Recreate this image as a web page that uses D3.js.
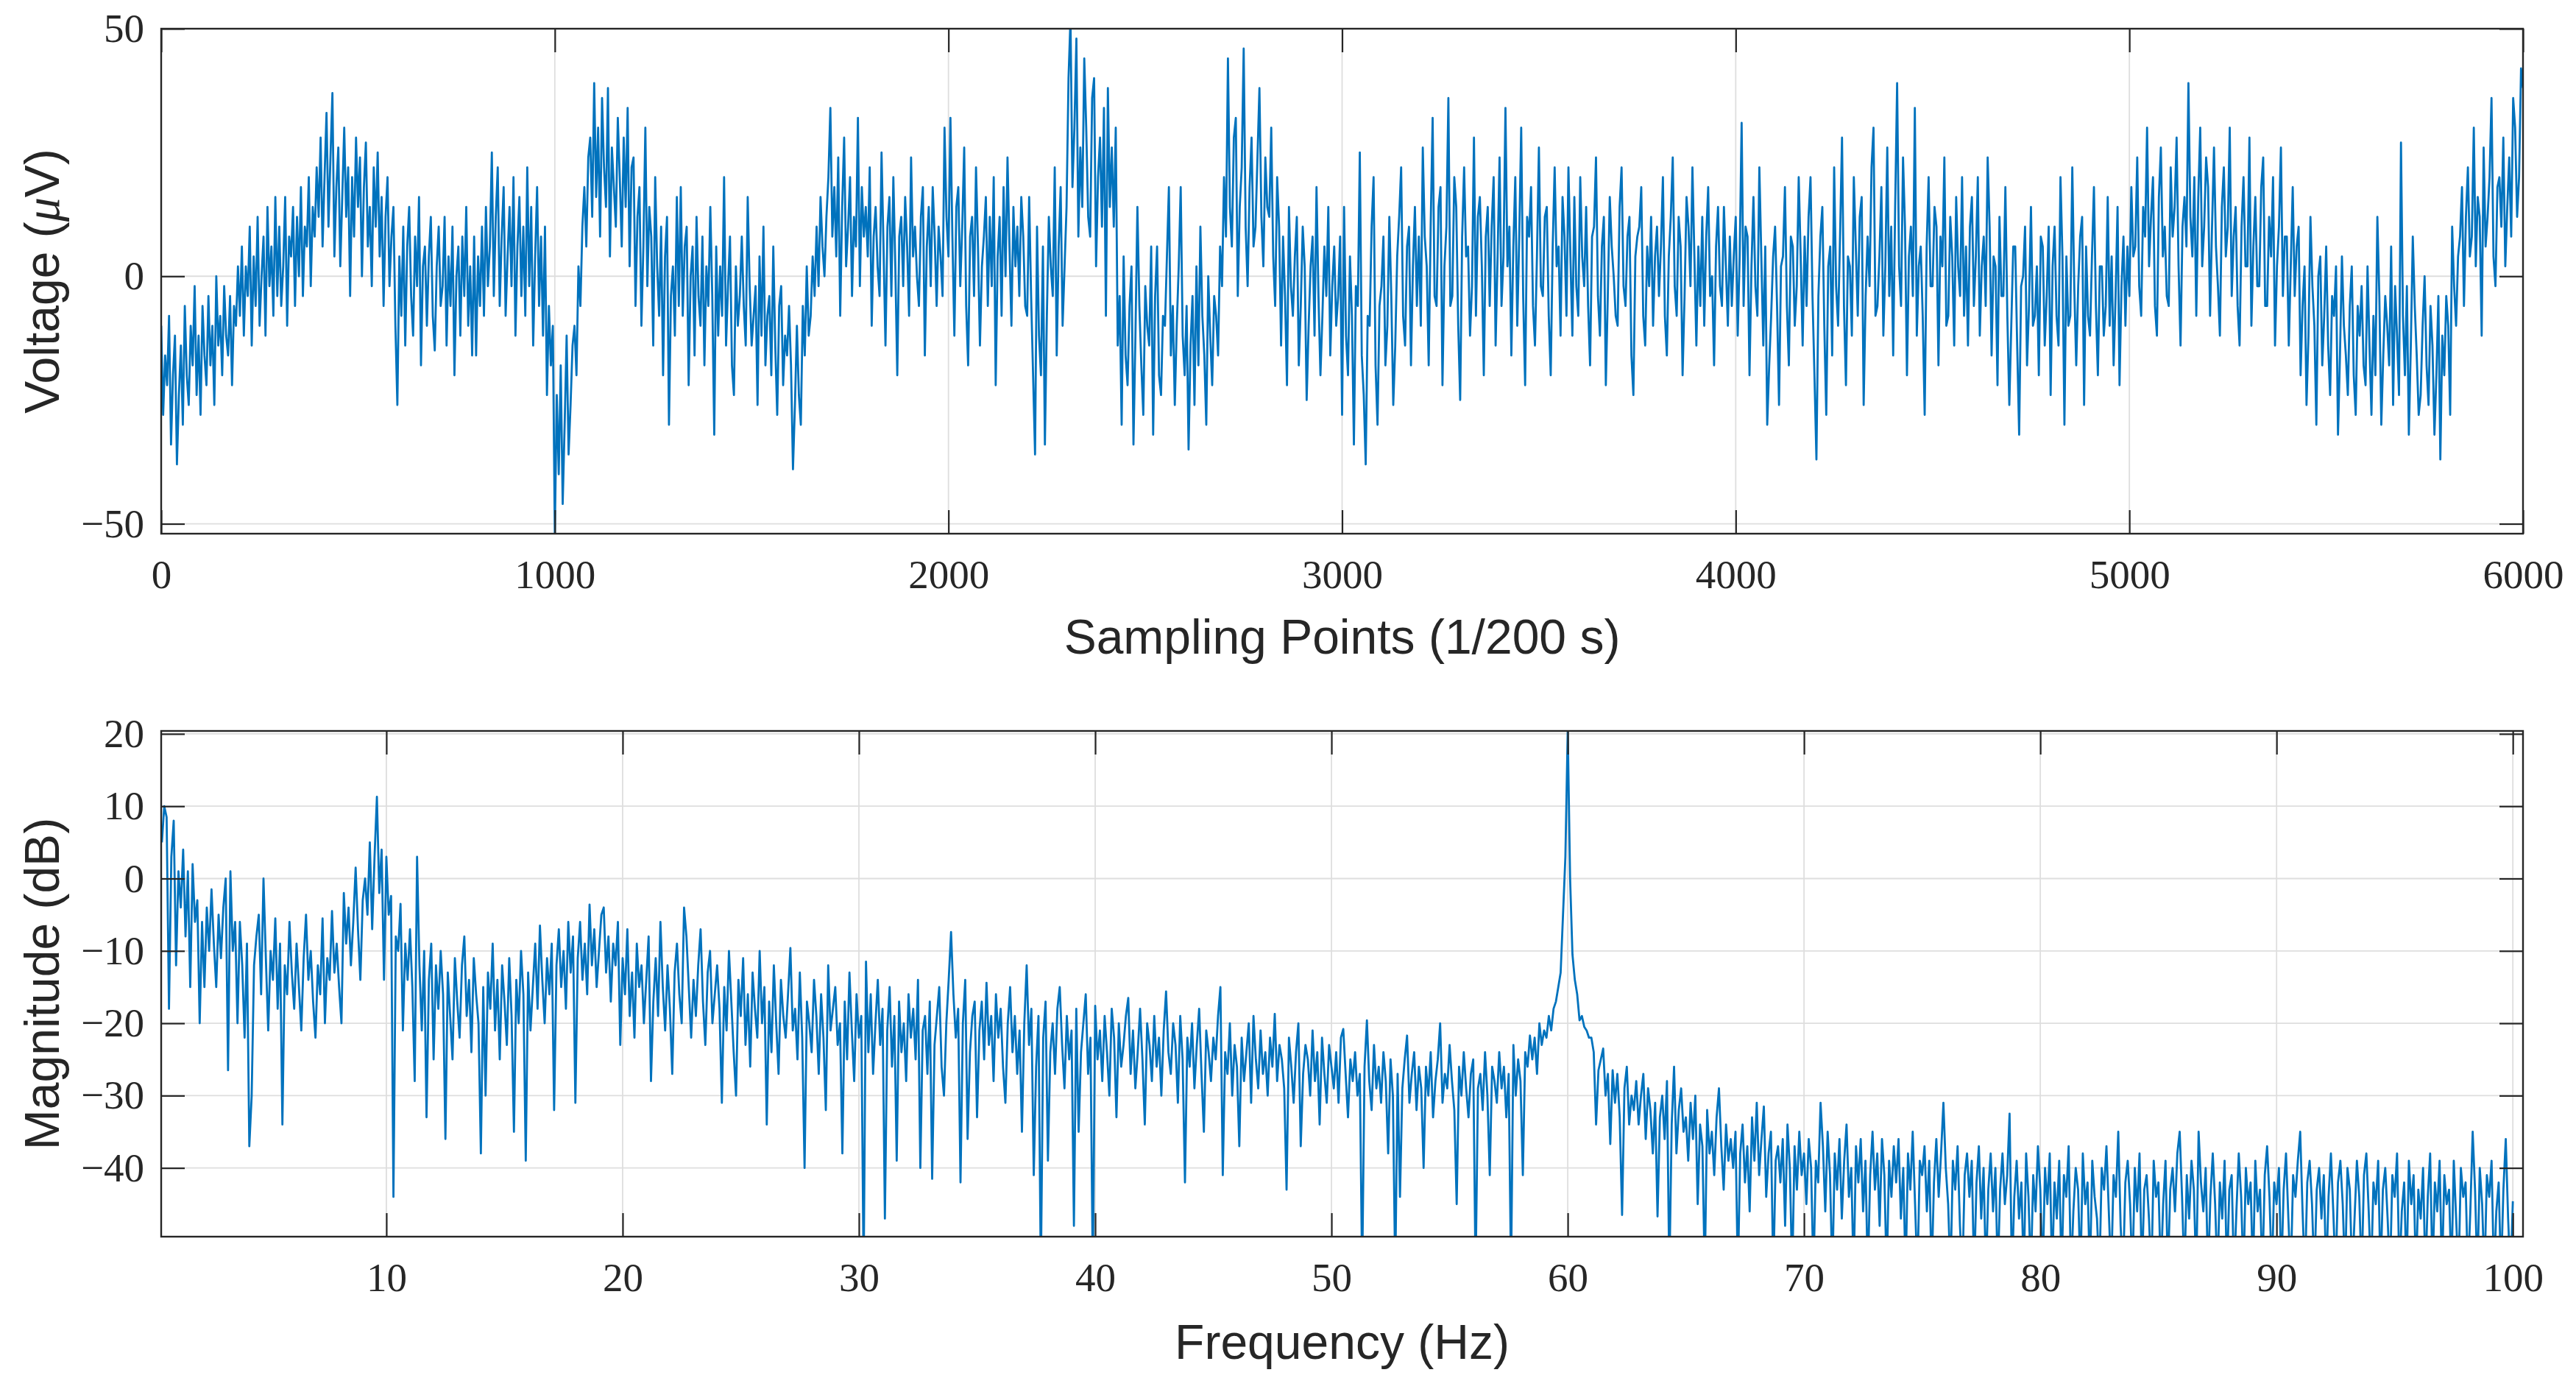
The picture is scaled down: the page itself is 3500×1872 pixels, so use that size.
<!DOCTYPE html>
<html>
<head>
<meta charset="utf-8">
<script src="https://cdn.jsdelivr.net/npm/d3@7"></script>
<style>
  body { margin: 0; background: #fff; }
  svg { display: block; }
  .tick-label { font-family: "Liberation Serif", "DejaVu Serif", serif; fill: #262626; }
  .axis-title { font-family: "Liberation Sans", Arial, sans-serif; fill: #262626; }
</style>
</head>
<body>
<svg id="chart" width="3500" height="1872"></svg>
<script>
// EEG trace, read every 5th sampling point off the top panel (one row = 100 points)
const voltage = [
  -10,-28,-16,-22,-8,-34,-20,-12,-38,-24,-14,-30,-6,-20,-26,-10,-18,-2,-24,-12,
  -28,-6,-16,-22,-4,-18,-10,-26,0,-14,-8,-20,-2,-12,-16,-4,-22,-6,-10,2,
  -8,6,-12,2,-4,10,-14,4,-6,12,-10,0,8,-12,14,-2,6,-8,16,-4,
  10,-6,2,16,-10,8,4,14,-6,12,0,18,-4,10,6,20,-2,14,8,22,
  12,28,6,20,33,10,24,37,4,18,26,2,16,30,12,22,-4,20,8,28,
  14,24,0,18,27,6,14,-2,22,10,25,4,16,-6,12,20,-2,8,14,-10,
  -26,4,-8,10,-14,6,14,-4,-12,8,-2,16,-18,2,6,-10,4,12,-8,-15,
  2,10,-6,-2,12,-14,4,-6,10,-20,0,6,-12,8,-4,14,-10,2,-16,8,
  -16,4,-6,10,-8,14,-2,6,25,-4,12,22,-6,8,18,-8,4,14,-2,20,
  -12,6,16,-4,10,-8,22,-2,14,-14,4,18,-6,8,-12,10,-24,-6,-18,-10,
  -52,-24,-40,-18,-46,-30,-12,-36,-26,-14,-10,-20,2,-6,10,18,6,24,28,12,
  39,16,30,8,36,22,14,38,4,26,18,10,32,20,6,28,14,34,2,22,
  24,-6,12,18,-10,6,30,-2,14,8,-14,20,2,-8,10,-20,4,12,-30,-4,
  2,-12,16,-6,18,-8,6,10,-22,0,6,-16,12,-4,-10,8,-18,2,-6,14,
  -4,-32,6,-12,2,-8,20,-14,-2,8,-18,-24,2,-10,-4,8,-6,-14,16,-2,
  -14,-8,-2,-26,4,-12,10,-18,-8,-4,-20,6,-14,-28,-6,-2,-22,-12,-16,-6,
  -18,-39,-26,-10,-24,-30,-6,-16,2,-12,-8,4,-4,10,-2,16,6,0,12,20,
  34,8,18,4,24,-8,14,28,2,10,20,-4,12,6,32,-2,18,8,14,4,
  22,-10,8,14,2,-4,25,6,-14,10,16,-4,20,2,-20,8,12,-2,16,6,
  -8,24,4,10,0,-6,12,18,-16,6,14,-2,18,8,-6,10,4,-4,30,12,
  4,32,8,-12,14,18,-2,10,26,-6,-18,8,12,-4,22,6,-14,2,8,16,
  -6,12,-2,20,-22,4,12,-8,18,0,24,6,-10,14,2,10,-4,16,8,-6,
  -8,16,-4,-20,-36,10,-12,-20,6,-34,-8,12,2,-4,22,-16,6,18,-10,2,
  14,40,52,18,30,48,8,26,14,44,30,12,8,36,40,2,20,28,10,34,
  -8,38,14,26,10,30,-14,-4,-30,4,-16,-22,-6,2,-34,-12,14,-6,-18,-28,
  -2,-10,-14,6,-32,-4,6,-20,-24,-8,-10,4,18,-16,-6,-26,-10,2,18,-12,
  -20,-6,-35,-14,-4,-26,2,-18,10,-8,-16,-30,0,-12,-22,-4,-8,-16,6,-2,
  20,8,44,14,6,28,32,-4,14,22,46,10,-2,18,28,6,10,24,38,12,
  2,24,14,12,30,4,-6,20,10,-14,8,-4,-22,14,-2,-8,4,12,-18,-6,
  10,2,-25,-10,2,8,-12,18,-4,-20,-8,6,-4,14,-16,-2,6,-10,-4,8,
  -28,14,-12,-20,4,-8,-34,-2,-6,25,-16,-24,-38,-8,-10,10,20,-18,-30,-6,
  -2,8,-18,-10,12,-4,-26,-14,4,12,22,-8,-14,6,10,-18,2,14,-6,8,
  -10,26,8,2,-18,10,32,-4,-6,14,18,-22,2,10,36,-6,-4,20,14,-10,
  -25,8,22,4,6,-12,-2,28,-8,12,16,2,-20,8,14,-6,10,20,-14,4,
  24,-6,4,34,2,10,-16,6,20,-10,8,30,-4,-22,12,8,18,-6,-14,4,
  26,-2,-4,12,14,-8,-20,6,22,2,6,-12,16,8,-8,22,4,-12,16,-2,
  -8,20,4,-2,14,-6,-18,8,10,24,-4,-12,6,12,-22,-4,16,6,0,-8,
  -10,14,22,-2,-6,8,12,-16,-24,4,8,10,18,-8,-14,6,-2,12,-10,4,
  10,-4,6,20,-8,-16,4,12,24,-2,-8,12,6,-20,-4,16,10,-2,22,4,
  -14,6,-6,12,-10,8,18,-4,0,-18,6,14,-2,-6,14,2,-10,8,-6,4,
  12,-12,4,31,-6,10,8,-20,2,16,-2,-8,22,4,-14,6,-30,-18,-8,4,
  10,-6,-26,2,4,18,-6,-18,8,6,-10,-2,20,4,-14,8,-6,12,20,-4,
  -20,-37,-4,8,14,-10,-28,2,6,-16,22,-2,-10,8,28,-6,-22,4,2,-12,
  20,6,-8,12,16,-26,-4,8,-2,22,30,-8,-6,4,18,-12,2,26,-4,10,
  -16,14,39,2,-6,24,10,-20,4,10,-4,34,-12,2,6,-8,-28,6,20,-2,
  -2,14,10,-18,8,2,24,-10,-8,12,4,-14,16,2,-4,20,-8,6,-14,10,
  16,-6,4,20,-12,2,8,-6,24,10,-16,4,2,-22,12,-4,-4,18,-8,-26,
  -10,6,6,-14,-32,-2,0,10,-18,-6,14,-10,-8,2,-20,8,6,-14,-4,10,
  -24,2,10,-8,-14,20,4,-30,4,-10,-8,22,-2,-18,-2,8,12,-26,6,-8,
  -12,4,18,-6,-20,2,2,-12,-6,16,-10,4,-18,-4,14,-22,-2,8,-10,6,
  -4,18,4,6,24,-2,-8,14,8,30,2,12,20,-6,-12,16,26,4,10,-4,
  -6,22,8,14,28,2,-14,10,16,6,39,12,4,20,-8,16,30,2,10,24,
  18,-8,10,26,6,-2,-12,14,22,4,10,30,-4,8,14,-6,-14,10,20,2,
  2,28,-10,6,16,-2,-2,18,24,-6,-6,12,4,20,-14,2,10,26,-4,8,
  8,-14,2,18,-4,6,10,-20,-6,2,-26,-12,12,-2,-10,-30,0,4,-18,-8,
  6,-14,-24,-4,-8,2,-32,-16,4,-10,-16,-24,-6,2,-20,-28,-6,-12,-2,-18,
  -22,2,-14,-28,-8,-20,12,-4,-30,-16,-4,-10,-18,6,-26,-2,-12,-24,27,-8,
  -20,-2,-32,-14,8,-6,-16,-28,-24,-10,0,-18,-26,-6,-14,-32,-20,-4,-37,-12,
  -20,-4,-10,-28,10,-2,-10,4,8,18,-6,12,22,4,8,30,2,16,12,-12,
  26,6,12,20,36,4,-2,18,20,10,28,2,14,24,8,36,30,12,20,42,
  38
];
const sampleCount = 6000;

// magnitude spectrum, one value every 0.1 Hz from 0.5 Hz (one row = one Hz)
const freqStart = 0.5;
const freqStep = 0.1;
const magnitude = [
  5,10,8.5,-18,3,
  8,-12,1,-4,4,-8,1,-15,2,-6,
  -3,-20,-6,-15,-4,-10,-1.5,-9,-15,-5,
  -11,-4,0,-26.5,1,-10,-6,-20,-6,-12,
  -22,-9,-37,-30,-12,-8,-5,-16,0,-11,
  -21,-10,-14,-5.5,-18,-9,-34,-12,-16,-6,
  -13,-18,-9,-15,-21,-11,-5,-14,-10,-17,
  -22,-12,-16,-5.5,-20,-11,-14,-4.5,-13,-9,
  -15,-20,-2,-9,-4,-12,-6,1.5,-7,-14,
  -3,0,-5,5,-7,3,11.3,-2,4,-14,
  3,-5,-2.4,-44,-8,-10,-3.5,-21,-9,-14,
  -7,-15,-28,3,-12,-21,-10,-33,-14,-9,
  -25,-12,-18,-10,-16,-36,-13,-19,-25,-11,
  -17,-22,-12,-8,-19,-14,-24,-11,-16,-20,
  -38,-15,-30,-13,-18,-9,-21,-14,-25,-12,
  -17,-23,-11,-19,-35,-14,-20,-10,-16,-39,
  -13,-21,-15,-9,-18,-6.5,-14,-20,-11,-16,
  -9,-32,-12,-7,-15,-10,-18,-6,-13,-8,
  -31,-11,-6,-14,-9,-16,-3.6,-12,-7,-15,
  -10,-5,-4,-13,-8,-17,-9,-12,-6,-23,
  -11,-16,-7,-19,-13,-22,-9,-15,-12,-20,
  -14,-8,-28,-17,-11,-19,-6,-15,-21,-12,
  -18,-27,-13,-9,-16,-20,-4,-8,-15,-22,
  -14,-19,-12,-7,-17,-23,-13,-10,-20,-16,
  -12,-18,-31,-15,-21,-10,-17,-24,-30,-14,
  -19,-11,-23,-16,-26,-13,-18,-22,-10,-20,
  -15,-34,-17,-24,-12,-20,-27,-14,-19,-22,
  -16,-9.6,-21,-18,-25,-13,-22,-40,-17,-20,
  -24,-14,-19,-27,-16,-22,-32,-12,-21,-18,
  -15,-23,-20,-38,-17,-25,-13,-21,-28,-16,
  -22,-19,-55,-11.5,-24,-16,-27,-20,-14,-23,
  -18,-47,-21,-15,-26,-19,-39,-17,-24,-20,
  -28,-16,-22,-18,-25,-14,-40,-21,-19,-27,
  -17,-41.5,-23,-19,-15,-26,-30,-20,-14,-7.4,
  -16,-22,-18,-42,-20,-14,-36,-24,-19,-17,
  -33,-21,-17,-25,-14.4,-23,-19,-28,-16,-22,
  -18,-26,-31,-20,-15,-24,-19,-27,-21,-35,
  -20,-12,-23,-18,-41,-26,-19,-55,-22,-17,
  -39,-24,-20,-27,-18,-15,-23,-29,-19,-25,
  -21,-48,-18,-35,-24,-20,-16,-27,-22,-55,
  -17.6,-25,-21,-28,-19,-24,-30,-18,-22,-33,
  -20,-26,-23,-19,-16.5,-27,-21,-29,-24,-18,
  -25,-34,-20,-23,-28,-19,-26,-22,-30,-21,
  -15.6,-24,-27,-20,-23,-31,-19,-25,-42,-22,
  -26,-20,-29,-23,-18,-27,-35,-21,-24,-28,
  -22,-25,-19,-15,-41,-24,-27,-20,-30,-23,
  -26,-37,-22,-28,-24,-20,-31,-19,-25,-29,
  -21,-27,-24,-30,-22,-26,-18.7,-28,-23,-25,
  -29,-43,-22,-26,-31,-24,-20,-37,-27,-23,
  -25,-30,-21,-28,-24,-34,-22,-27,-31,-23,
  -26,-29,-24,-31,-22,-20.8,-27,-33,-25,-28,
  -24,-30,-27,-55,-26,-19.6,-28,-32,-23,-29,
  -26,-31,-24,-28,-38,-25,-30,-55,-27,-44,
  -29,-25,-21.7,-31,-27,-24,-32,-26,-29,-40,
  -26,-30,-24,-33,-28,-25,-20,-31,-27,-29,
  -23,-28,-32,-45,-26,-30,-24,-29,-33,-27,
  -25,-55,-29,-27,-32,-24,-30,-41,-26,-28,
  -31,-24,-29,-26,-33,-27,-55,-23,-30,-25,
  -28,-41,-24,-26,-21.7,-25,-22,-27,-20,-23,
  -21,-22,-19,-21,-18,-17,-15,-13,-5,3,
  20.5,0,-10.5,-14,-16,-19.6,-19,-20.5,-21,-22,
  -22,-24,-34,-26.5,-25,-23.5,-30,-27,-36.7,-26.5,
  -31,-27,-33,-46.5,-29,-26,-34,-30,-32,-28,
  -34,-30,-27,-36,-29,-32,-38,-31,-46.7,-33,
  -30,-36,-28,-55,-34,-26,-38,-32,-29,-35,
  -33,-39,-31,-36,-30,-45,-34,-37,-55,-32,
  -38,-35,-41,-33,-29,-37,-43,-34,-39,-36,
  -40,-35,-55,-38,-34,-42,-37,-46,-33,-39,
  -31,-41,-36,-31.5,-44,-38,-35,-55,-39,-37,
  -42,-36,-48,-34,-40,-55,-37,-43,-35,-41,
  -38,-45,-36,-40,-55,-39,-42,-31,-37,-46,
  -35,-41,-55,-38,-43,-36,-47,-39,-34,-44,
  -40,-55,-37,-42,-36,-46,-39,-55,-41,-35,
  -43,-38,-48,-36,-41,-55,-39,-44,-37,-42,
  -36,-47,-40,-55,-38,-43,-35,-45,-55,-39,
  -41,-37,-46,-39,-55,-42,-36,-44,-38,-31,
  -40,-45,-55,-39,-43,-37,-48,-55,-41,-38,
  -44,-39,-55,-42,-37,-47,-40,-55,-43,-38,
  -46,-40,-55,-43,-38,-45,-41,-32.5,-55,-44,
  -39,-47,-42,-55,-38,-44,-55,-41,-46,-37,
  -43,-55,-40,-45,-38,-55,-42,-47,-39,-55,
  -41,-44,-37,-55,-46,-40,-43,-55,-38,-45,
  -42,-55,-39,-44,-47,-55,-40,-43,-37,-46,
  -55,-41,-44,-35,-48,-55,-42,-39,-45,-55,
  -40,-46,-38,-55,-43,-41,-47,-55,-39,-44,
  -42,-55,-45,-39,-55,-43,-40,-46,-38,-35,
  -44,-55,-41,-47,-39,-43,-55,-35,-42,-46,
  -40,-55,-44,-38,-45,-55,-42,-47,-39,-55,
  -43,-41,-55,-46,-38,-44,-55,-40,-45,-42,
  -55,-39,-46,-43,-55,-41,-37,-44,-55,-42,
  -45,-40,-55,-43,-38,-47,-55,-41,-44,-39,
  -35,-46,-55,-42,-39,-45,-55,-43,-40,-47,
  -41,-55,-44,-38,-46,-55,-42,-39,-45,-55,
  -40,-43,-55,-47,-39,-44,-55,-41,-38,-46,
  -55,-42,-45,-39,-55,-43,-40,-47,-55,-41,
  -44,-38,-55,-46,-42,-55,-39,-45,-41,-55,
  -43,-47,-40,-55,-44,-38,-55,-42,-46,-39,
  -55,-41,-45,-43,-55,-39,-47,-55,-40,-44,
  -42,-55,-46,-35,-43,-55,-40,-45,-55,-41,
  -44,-39,-55,-46,-42,-55,-43,-36,-47,-55,
  -44.6
];

const timeTicks = [0, 1000, 2000, 3000, 4000, 5000, 6000];
const voltTicks = [-50, 0, 50];
const freqTicks = [10, 20, 30, 40, 50, 60, 70, 80, 90, 100];
const dbTicks = [-40, -30, -20, -10, 0, 10, 20];

const svg = d3.select("#chart");
const lineColor = "#0072bd";
const axisColor = "#262626";
const tickLen = 32;

function fmt(v) {
  return v < 0 ? "\u2212" + Math.abs(v) : String(v);
}

function drawPanel(cfg) {
  const { left, right, top, bottom } = cfg.box;
  const w = right - left;
  const h = bottom - top;

  const scX = d3.scaleLinear().domain(cfg.xDomain).range([0, w]);
  const scY = d3.scaleLinear().domain(cfg.yDomain).range([h, 0]);

  const g = svg.append("g").attr("transform", `translate(${left}, ${top})`);

  // grid
  g.append("g")
    .selectAll("line")
    .data(cfg.xTicks)
    .enter()
    .append("line")
    .attr("x1", (d) => scX(d))
    .attr("x2", (d) => scX(d))
    .attr("y1", 0)
    .attr("y2", h)
    .style("stroke", "#dedede")
    .style("stroke-width", 1.8);
  g.append("g")
    .selectAll("line")
    .data(cfg.yTicks)
    .enter()
    .append("line")
    .attr("x1", 0)
    .attr("x2", w)
    .attr("y1", (d) => scY(d))
    .attr("y2", (d) => scY(d))
    .style("stroke", "#dedede")
    .style("stroke-width", 1.8);

  // signal
  const clipId = cfg.id + "-clip";
  g.append("clipPath")
    .attr("id", clipId)
    .append("rect")
    .attr("width", w)
    .attr("height", h);

  const line = d3
    .line()
    .x((d, i) => scX(cfg.xOf(i)))
    .y((d) => scY(d));

  g.append("path")
    .datum(cfg.values)
    .attr("clip-path", `url(#${clipId})`)
    .attr("d", line)
    .style("fill", "none")
    .style("stroke", lineColor)
    .style("stroke-width", 2.8)
    .style("stroke-linejoin", "round");

  // ticks point inward on all four sides
  const axB = d3.axisBottom(scX).tickValues(cfg.xTicks).tickSizeInner(-tickLen).tickSizeOuter(0).tickPadding(35).tickFormat(fmt);
  const axT = d3.axisTop(scX).tickValues(cfg.xTicks).tickSizeInner(-tickLen).tickSizeOuter(0).tickFormat("");
  const axL = d3.axisLeft(scY).tickValues(cfg.yTicks).tickSizeInner(-tickLen).tickSizeOuter(0).tickPadding(23).tickFormat(fmt);
  const axR = d3.axisRight(scY).tickValues(cfg.yTicks).tickSizeInner(-tickLen).tickSizeOuter(0).tickFormat("");

  const gB = g.append("g").attr("transform", `translate(0, ${h})`).call(axB);
  const gT = g.append("g").call(axT);
  const gL = g.append("g").call(axL);
  const gR = g.append("g").attr("transform", `translate(${w}, 0)`).call(axR);

  [gB, gT, gL, gR].forEach((a) => {
    a.select(".domain").remove();
    a.selectAll("line").style("stroke", axisColor).style("stroke-width", 2.2);
    a.selectAll("text").attr("class", "tick-label").style("font-size", "55px").style("fill", axisColor);
  });

  g.append("rect")
    .attr("width", w)
    .attr("height", h)
    .style("fill", "none")
    .style("stroke", axisColor)
    .style("stroke-width", 2.4);

  // titles
  svg.append("text")
    .attr("class", "axis-title")
    .attr("x", left + w / 2)
    .attr("y", cfg.xTitleY)
    .attr("text-anchor", "middle")
    .style("font-size", "66px")
    .text(cfg.xTitle);

  const yt = svg.append("text")
    .attr("class", "axis-title")
    .attr("transform", `translate(80, ${top + h / 2}) rotate(-90)`)
    .attr("text-anchor", "middle")
    .style("font-size", "66px");
  cfg.yTitle(yt);
}

drawPanel({
  id: "volt",
  box: { left: 219, right: 3428, top: 39, bottom: 725 },
  values: voltage,
  xOf: (i) => (i * sampleCount) / (voltage.length - 1),
  xDomain: [0, 6000],
  yDomain: [-52, 50],
  xTicks: timeTicks,
  yTicks: voltTicks,
  xTitle: "Sampling Points (1/200 s)",
  xTitleY: 888,
  yTitle: (t) => {
    t.append("tspan").text("Voltage (");
    t.append("tspan")
      .style("font-family", "'Liberation Serif', serif")
      .style("font-style", "italic")
      .text("\u03bc");
    t.append("tspan").text("V)");
  },
});

drawPanel({
  id: "freq",
  box: { left: 219, right: 3428, top: 993, bottom: 1680 },
  values: magnitude,
  xOf: (i) => freqStart + i * freqStep,
  xDomain: [0.47, 100.43],
  yDomain: [-49.5, 20.4],
  xTicks: freqTicks,
  yTicks: dbTicks,
  xTitle: "Frequency (Hz)",
  xTitleY: 1846,
  yTitle: (t) => t.text("Magnitude (dB)"),
});
</script>
</body>
</html>
